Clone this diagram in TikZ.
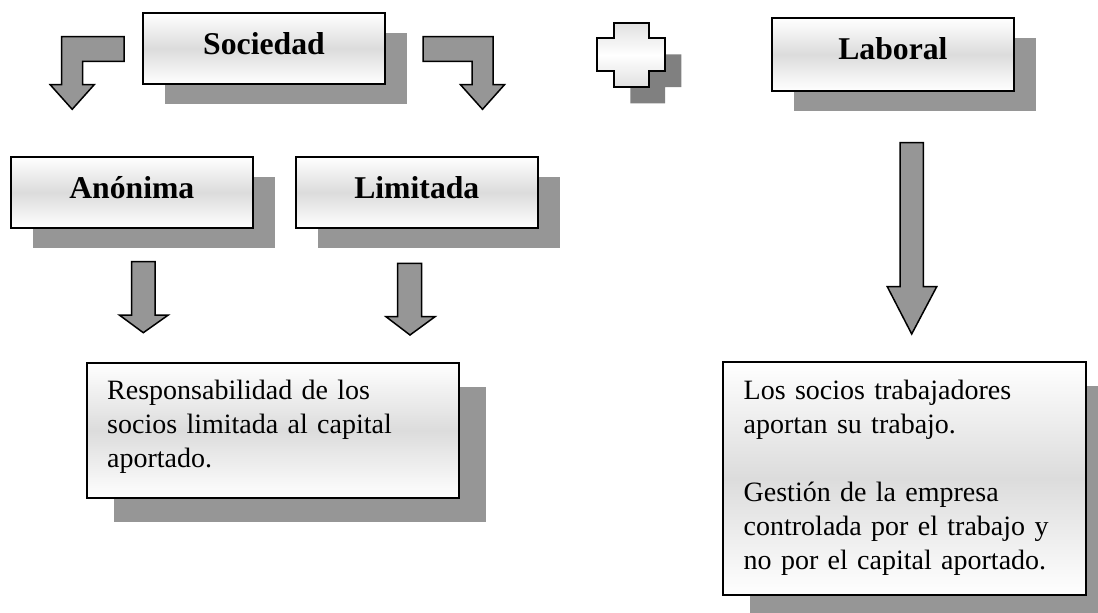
\documentclass[tikz,border=0pt]{standalone}
\usepackage{fontspec}
\setmainfont{Liberation Serif}
\usetikzlibrary{shadows}
\definecolor{shadowgray}{RGB}{150,150,150}
\definecolor{arrowgray}{RGB}{150,150,150}
\definecolor{crossshadow}{RGB}{128,128,128}
\definecolor{bandgray}{RGB}{220,220,220}
\definecolor{crossgray}{RGB}{224,224,224}
\tikzset{
  titlebox/.style={draw=black, line width=2pt, top color=white, bottom color=white,
    middle color=bandgray, minimum width=242pt, minimum height=71.6pt, inner sep=0pt,
    text height=41.6pt, text depth=30pt,
    font=\fontsize{31.7}{38}\selectfont\bfseries,
    general shadow={fill=shadowgray, shadow xshift=22pt, shadow yshift=-20pt}},
  textbox/.style={draw=black, line width=2pt, top color=white, bottom color=white,
    middle color=bandgray, inner sep=0pt},
  bodytext/.style={anchor=base west, inner sep=0pt, text width=335pt, align=left,
    font=\fontsize{28}{34}\selectfont},
  blockarrow/.style={draw=black, fill=arrowgray, line width=1.5pt, line join=miter},
}
\begin{document}
\begin{tikzpicture}[x=1pt,y=-1pt]
\useasboundingbox (0,0) rectangle (1098,613);
\clip (0,0) rectangle (1098,613);

% title boxes
\node[titlebox] (soc) at (264,48.5) {Sociedad};
\node[titlebox] (ano) at (131.8,192.5) {Anónima};
\node[titlebox] (lim) at (416.8,192.5) {Limitada};
\node[titlebox, minimum height=72.4pt, text depth=30.8pt] (lab) at (892.9,54.5) {Laboral};

% plus sign
\fill[crossshadow, shift={(16,16)}] (614.3,22.7) -- (649,22.7) -- (649,38.3) -- (665.3,38.3)
  -- (665.3,71) -- (649,71) -- (649,87.3) -- (614.3,87.3) -- (614.3,71) -- (597.3,71)
  -- (597.3,38.3) -- (614.3,38.3) -- cycle;
\draw[line width=2pt, top color=crossgray, bottom color=crossgray, middle color=white]
  (614.3,22.7) -- (649,22.7) -- (649,38.3) -- (665.3,38.3)
  -- (665.3,71) -- (649,71) -- (649,87.3) -- (614.3,87.3) -- (614.3,71) -- (597.3,71)
  -- (597.3,38.3) -- (614.3,38.3) -- cycle;

% bent arrows from Sociedad
\draw[blockarrow] (124,36.7) -- (61.7,36.7) -- (61.7,84.7) -- (50.2,84.7) -- (72.2,109.3)
  -- (94.2,84.7) -- (82.7,84.7) -- (82.7,61.3) -- (124,61.3) -- cycle;
\draw[blockarrow] (423,36.7) -- (493,36.7) -- (493,84.7) -- (504.5,84.7) -- (482.5,109.3)
  -- (460.5,84.7) -- (472,84.7) -- (472,61.3) -- (423,61.3) -- cycle;

% down arrows
\draw[blockarrow] (131.7,261.7) -- (155,261.7) -- (155,315) -- (168.3,315) -- (143.3,332.7)
  -- (119.3,315) -- (131.7,315) -- cycle;
\draw[blockarrow] (397.7,263.3) -- (421.7,263.3) -- (421.7,316.7) -- (435,316.7) -- (410,335)
  -- (386,316.7) -- (397.7,316.7) -- cycle;
\draw[blockarrow] (900,142.7) -- (923.3,142.7) -- (923.3,286.7) -- (936.7,286.7) -- (911.7,334)
  -- (887.3,286.7) -- (900,286.7) -- cycle;

% text boxes
\node[textbox, minimum width=372pt, minimum height=135.6pt,
  general shadow={fill=shadowgray, shadow xshift=27pt, shadow yshift=-24pt}]
  (respbox) at (273,430.5) {};
\node[bodytext] (resp) at ([shift={(21,37.5)}]respbox.north west)
  {Responsabilidad de los\\socios limitada al capital\\aportado.};

\node[textbox, minimum width=363pt, minimum height=232.7pt,
  general shadow={fill=shadowgray, shadow xshift=26.5pt, shadow yshift=-24pt}]
  (labbox) at (904.5,478.35) {};
\node[bodytext] (labtext) at ([shift={(21.5,38)}]labbox.north west)
  {Los socios trabajadores\\aportan su trabajo.\\[34pt]Gestión de la empresa\\controlada por el trabajo y\\no por el capital aportado.};
\end{tikzpicture}
\end{document}
